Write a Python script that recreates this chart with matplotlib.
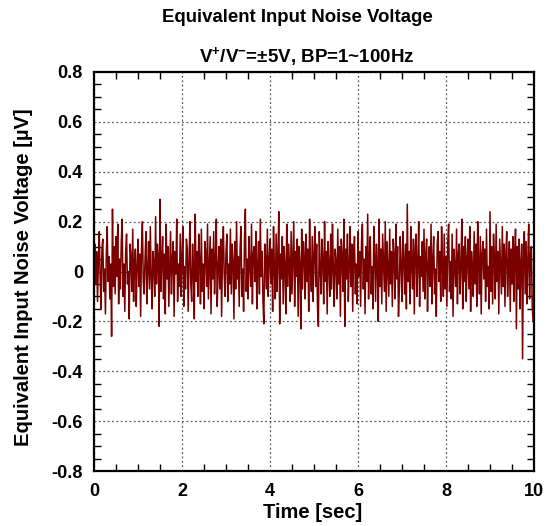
import numpy as np
import matplotlib
matplotlib.use('Agg')
import matplotlib.pyplot as plt
from matplotlib.ticker import MultipleLocator

plt.rcParams['font.family'] = ['Liberation Sans', 'DejaVu Sans']
plt.rcParams['font.weight'] = 'bold'
plt.rcParams['mathtext.fontset'] = 'custom'
plt.rcParams['mathtext.rm'] = 'Liberation Sans:bold'
plt.rcParams['mathtext.bf'] = 'Liberation Sans:bold'
plt.rcParams['mathtext.default'] = 'rm'

# sampling interval [sec]
sample_interval = 0.02

# noise voltage [uV] (20 rows of 0.5 s)
noise_uv = [
    0.02, 0.11, -0.05, 0.08, -0.12, 0.04, 0.16, -0.03, -0.15, 0.09, 0.13, -0.08, 0.01, -0.17, 0.07, 0.18, -0.04, 0.06, -0.11, 0.03, -0.26, 0.25, -0.06, 0.10, -0.09,
    0.14, -0.02, 0.19, -0.13, 0.05, -0.07, 0.12, 0.21, -0.10, 0.03, -0.16, 0.08, 0.15, -0.05, 0.00, -0.19, 0.11, 0.06, -0.08, 0.17, -0.12, 0.04, 0.09, -0.14, 0.02,
    0.13, -0.06, 0.07, -0.18, 0.10, 0.20, -0.04, -0.09, 0.05, 0.16, -0.13, 0.01, 0.12, -0.07, 0.18, -0.02, -0.15, 0.08, 0.03, -0.10, 0.22, -0.05, 0.11, 0.06, -0.22,
    0.29, -0.08, 0.04, 0.14, -0.11, 0.07, -0.17, 0.19, -0.03, 0.10, -0.14, 0.02, 0.16, -0.09, 0.05, 0.12, -0.18, 0.08, -0.01, 0.21, -0.12, 0.03, -0.06, 0.15, -0.10,
    0.06, 0.18, -0.14, 0.02, -0.07, 0.13, 0.09, -0.16, 0.04, 0.20, -0.05, -0.12, 0.11, 0.01, -0.19, 0.23, -0.04, 0.08, -0.10, 0.15, 0.05, -0.13, 0.17, -0.08, 0.03,
    -0.15, 0.12, 0.07, -0.06, 0.19, -0.11, 0.02, 0.14, -0.17, 0.09, -0.03, 0.16, -0.09, 0.05, 0.21, -0.14, 0.00, 0.10, -0.07, 0.13, -0.18, 0.06, 0.18, -0.02, -0.10,
    0.08, 0.15, -0.12, 0.03, -0.05, 0.17, -0.09, 0.11, 0.04, -0.19, 0.12, -0.07, 0.20, -0.03, 0.06, -0.14, 0.09, 0.18, -0.10, 0.01, -0.16, 0.13, 0.25, -0.08, 0.05,
    -0.11, 0.14, 0.02, -0.06, 0.19, -0.13, 0.07, 0.10, -0.04, 0.16, -0.15, 0.03, 0.12, -0.09, 0.21, -0.02, 0.08, -0.12, -0.21, 0.11, 0.05, -0.07, 0.17, -0.10, 0.04,
    0.13, -0.05, 0.09, -0.16, 0.18, 0.01, -0.11, 0.15, -0.08, 0.06, 0.24, -0.21, 0.07, -0.03, 0.14, -0.13, 0.10, 0.02, -0.17, 0.19, -0.06, 0.11, 0.04, -0.12, 0.16,
    -0.09, 0.05, 0.20, -0.14, 0.08, -0.02, 0.13, -0.18, 0.10, 0.03, -0.23, 0.17, -0.07, 0.12, 0.06, -0.11, 0.15, -0.04, 0.09, -0.16, 0.21, 0.00, -0.08, 0.14, -0.12,
    0.07, 0.18, -0.06, 0.11, -0.15, -0.22, 0.16, 0.02, -0.09, 0.13, 0.05, -0.13, 0.20, -0.04, 0.08, -0.17, 0.12, 0.03, -0.10, 0.15, -0.07, 0.19, 0.01, -0.14, 0.09,
    0.04, -0.11, 0.17, -0.05, 0.10, -0.18, 0.13, 0.06, -0.08, 0.21, -0.22, 0.09, -0.03, 0.15, -0.12, 0.02, 0.18, -0.06, 0.11, -0.16, 0.07, 0.14, -0.09, 0.03, -0.13,
    0.16, -0.02, 0.08, -0.14, 0.12, 0.19, -0.07, 0.05, -0.17, 0.10, -0.04, 0.23, -0.11, 0.06, 0.14, -0.09, 0.02, -0.15, 0.18, 0.07, -0.12, 0.11, 0.03, -0.20, 0.21,
    -0.06, 0.09, -0.13, 0.15, 0.04, -0.08, 0.20, -0.16, 0.12, 0.01, -0.10, 0.17, -0.05, 0.08, -0.14, 0.13, 0.06, -0.11, 0.19, -0.03, 0.10, -0.18, -0.07, 0.14, 0.02,
    -0.12, 0.16, 0.05, -0.09, 0.11, -0.15, 0.27, -0.04, 0.08, -0.13, 0.18, 0.02, -0.07, 0.13, -0.17, 0.09, 0.15, -0.10, 0.04, 0.20, -0.14, 0.06, -0.02, 0.12, -0.08,
    0.17, -0.11, 0.07, 0.13, -0.16, 0.03, 0.10, -0.06, 0.19, -0.13, 0.05, 0.14, -0.09, 0.01, -0.18, 0.11, 0.16, -0.04, 0.08, -0.12, 0.18, 0.02, -0.10, 0.15, -0.07,
    0.06, -0.14, 0.12, 0.19, -0.08, 0.04, -0.11, 0.15, -0.18, 0.09, 0.02, -0.06, 0.17, -0.13, 0.07, 0.11, -0.09, 0.03, 0.21, -0.15, 0.10, -0.04, 0.14, -0.12, 0.05,
    0.13, -0.07, 0.18, -0.16, 0.08, 0.01, -0.10, 0.16, -0.05, 0.11, -0.14, 0.20, 0.04, -0.09, 0.14, -0.17, 0.07, 0.12, -0.03, 0.09, -0.12, 0.17, -0.06, 0.02, -0.15,
    0.24, -0.08, 0.10, -0.13, 0.15, 0.05, -0.11, 0.19, -0.04, 0.08, -0.17, 0.13, 0.02, -0.09, 0.18, -0.06, 0.11, -0.14, 0.07, 0.16, -0.10, 0.03, 0.12, -0.16, 0.09,
    -0.05, 0.14, -0.12, 0.06, 0.17, -0.23, 0.10, -0.07, 0.13, -0.15, 0.04, 0.11, -0.35, 0.08, 0.16, -0.09, 0.12, -0.13, 0.05, 0.19, -0.11, 0.07, 0.10, -0.14, -0.20,
]

time_sec = np.arange(len(noise_uv)) * sample_interval

fig = plt.figure(figsize=(5.51, 5.26), dpi=100)
ax = fig.add_axes([94 / 551, 1 - 471 / 526, 440 / 551, 399 / 526])

ax.plot(time_sec, noise_uv, color='#7a0000', linewidth=1.1)

ax.set_xlim(0, 10)
ax.set_ylim(-0.8, 0.8)
ax.xaxis.set_major_locator(MultipleLocator(2))
ax.xaxis.set_minor_locator(MultipleLocator(0.5))
ax.yaxis.set_major_locator(MultipleLocator(0.2))
ax.yaxis.set_minor_locator(MultipleLocator(0.05))
ax.yaxis.set_major_formatter(plt.FuncFormatter(lambda v, p: '0' if abs(v) < 1e-9 else f'{v:.1f}'))

ax.tick_params(which='both', direction='in', top=True, right=True, labelsize=13, width=1)
ax.tick_params(which='major', length=0)
ax.tick_params(which='minor', length=5)
ax.tick_params(axis='x', pad=8.5)
ax.tick_params(axis='y', pad=8)
for s in ax.spines.values():
    s.set_linewidth(1.6)

ax.grid(True, which='major', color='0.35', linestyle=(0, (1.5, 2)), linewidth=0.9)

ax.set_xlabel('Time [sec]', fontsize=14.5, fontweight='bold', va='center')
ax.set_ylabel('Equivalent Input Noise Voltage [µV]', fontsize=14.5, fontweight='bold', va='center')
ax.xaxis.set_label_coords(0.498, -0.103)
ax.yaxis.set_label_coords(-0.161, 0.485)

fig.text(297 / 551, 1 - 18 / 526, 'Equivalent Input Noise Voltage', ha='center', va='center',
         fontsize=13.4, fontweight='bold')
fig.text(307 / 551, 1 - 56 / 526, r'V$^{+}$/V$^{-}$=±5V, BP=1~100Hz', ha='center', va='center',
         fontsize=13.5, fontweight='bold')

fig.savefig('out.png', dpi=100)
